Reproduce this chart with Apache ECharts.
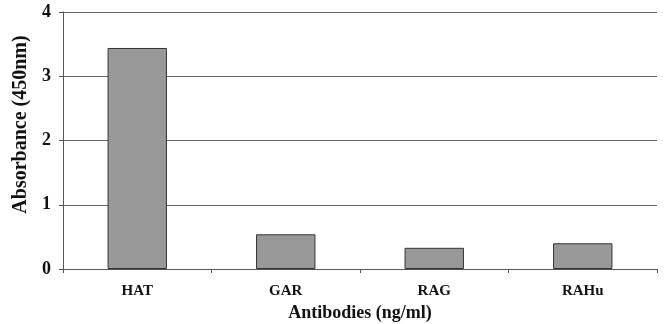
<!DOCTYPE html>
<html><head><meta charset="utf-8">
<script src="https://cdn.jsdelivr.net/npm/echarts@6/dist/echarts.min.js"></script>
<style>html,body{margin:0;padding:0;background:#fff}#c{width:664px;height:324px}</style>
</head><body><div id="c"></div>
<script>
const categories = ['HAT', 'GAR', 'RAG', 'RAHu'];
const absorbance = [3.44, 0.54, 0.33, 0.40];
const yTicks = [0, 1, 2, 3, 4];

const font = '"Liberation Serif","Times New Roman",serif';
const chart = echarts.init(document.getElementById('c'), null, {renderer: 'canvas'});
chart.setOption({
  animation: false,
  backgroundColor: '#fff',
  grid: {left: 63, right: 7, top: 12, bottom: 55, containLabel: false, outerBoundsMode: 'none'},
  xAxis: {
    type: 'category',
    data: categories,
    name: 'Antibodies (ng/ml)',
    nameLocation: 'middle',
    nameGap: 33,
    nameTextStyle: {fontFamily: font, fontWeight: 'bold', fontSize: 18, color: '#111'},
    axisLine: {lineStyle: {color: '#555', width: 1}},
    axisTick: {show: true, length: 4, lineStyle: {color: '#555'}},
    axisLabel: {fontFamily: font, fontWeight: 'bold', fontSize: 15, color: '#111', margin: 15}
  },
  yAxis: {
    type: 'value',
    min: yTicks[0], max: yTicks[yTicks.length - 1], interval: 1,
    name: 'Absorbance (450nm)',
    nameLocation: 'middle',
    nameGap: 28,
    nameTextStyle: {fontFamily: font, fontWeight: 'bold', fontSize: 20, color: '#111', padding: [0, 0, 0, 32]},
    axisLine: {show: true, lineStyle: {color: '#555', width: 1}},
    axisTick: {show: true, length: 4, lineStyle: {color: '#555'}},
    splitLine: {lineStyle: {color: '#666', width: 1}},
    axisLabel: {fontFamily: font, fontWeight: 'bold', fontSize: 18, color: '#111', margin: 12}
  },
  series: [{
    type: 'bar',
    data: absorbance,
    barWidth: '40%',
    itemStyle: {color: '#999999', borderColor: '#333', borderWidth: 1}
  }]
});
</script></body></html>
